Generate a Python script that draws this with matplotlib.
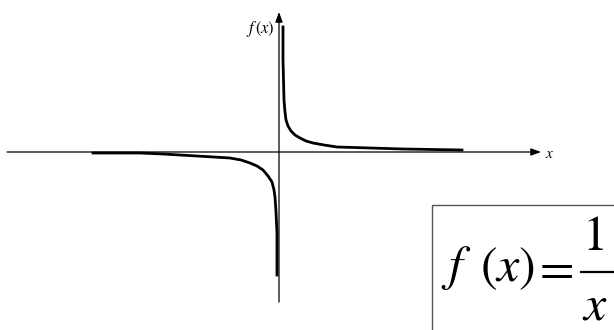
import matplotlib
matplotlib.use("Agg")
import matplotlib.pyplot as plt
from matplotlib.patches import Rectangle

# Curve values (units: pixels relative to the origin)
pos_x = [4, 4, 5, 6, 7, 9, 12, 16, 21, 27, 34, 45, 58, 75, 91, 124, 183]
pos_y = [125, 92, 52, 40, 32, 26, 21, 17, 14, 11, 9, 7, 5, 4.5, 4, 3, 2]
neg_x = [-186, -139, -116, -82, -49, -38, -29, -22, -16, -11, -7, -5, -4, -3, -2, -2]
neg_y = [-1, -1, -2, -4, -6, -8, -11, -14, -18, -24, -30, -38, -45, -60, -81, -123]

OX, OY = 279, 152  # origin in pixel space


def P(px, py):
    return px - OX, OY - py


plt.rcParams["mathtext.fontset"] = "stix"

fig = plt.figure(figsize=(6.14, 3.30), dpi=100)
ax = fig.add_axes([0, 0, 1, 1])
ax.set_xlim(-OX, 614 - OX)
ax.set_ylim(OY - 330, OY)
ax.axis("off")

serif = "STIXGeneral"

# axes with arrows
ax.annotate("", xy=P(541, 152), xytext=P(7, 152),
            arrowprops=dict(arrowstyle="-|>,head_length=0.6,head_width=0.22",
                            color="black", lw=0.9, shrinkA=0, shrinkB=0))
ax.annotate("", xy=P(279, 12), xytext=P(279, 302),
            arrowprops=dict(arrowstyle="-|>,head_length=0.6,head_width=0.22",
                            color="black", lw=0.9, shrinkA=0, shrinkB=0))

ax.text(*P(545, 154), "$x$", fontsize=11, ha="left", va="center")
ax.text(*P(275, 29), "$f\\,(x)$", fontsize=12, ha="right", va="center")

# curve branches
ax.plot(pos_x, pos_y, color="black", lw=2.0, solid_joinstyle="round")
ax.plot(neg_x, neg_y, color="black", lw=2.0, solid_joinstyle="round")

# formula box
x0, y0 = P(432, 335)
x1, y1 = P(620, 205)
ax.add_patch(Rectangle((x0, y0), x1 - x0, y1 - y0, fill=False,
                       edgecolor="#555555", lw=1.0))

fs = 36
ax.text(*P(456, 268), "$f$", fontsize=fs, ha="center", va="center")
ax.text(*P(508, 268), "$(x)$", fontsize=fs, ha="center", va="center")
ax.text(*P(557, 272), "=", family=serif, fontsize=fs, ha="center", va="center")
ax.text(*P(595, 238), "1", family=serif, fontsize=fs, ha="center", va="center")
ax.plot([P(581, 272)[0], P(614, 272)[0]], [P(581, 272)[1]] * 2,
        color="black", lw=1.6)
ax.text(*P(595, 306), "$x$", fontsize=fs, ha="center", va="center")

fig.savefig("out.png", dpi=100)
